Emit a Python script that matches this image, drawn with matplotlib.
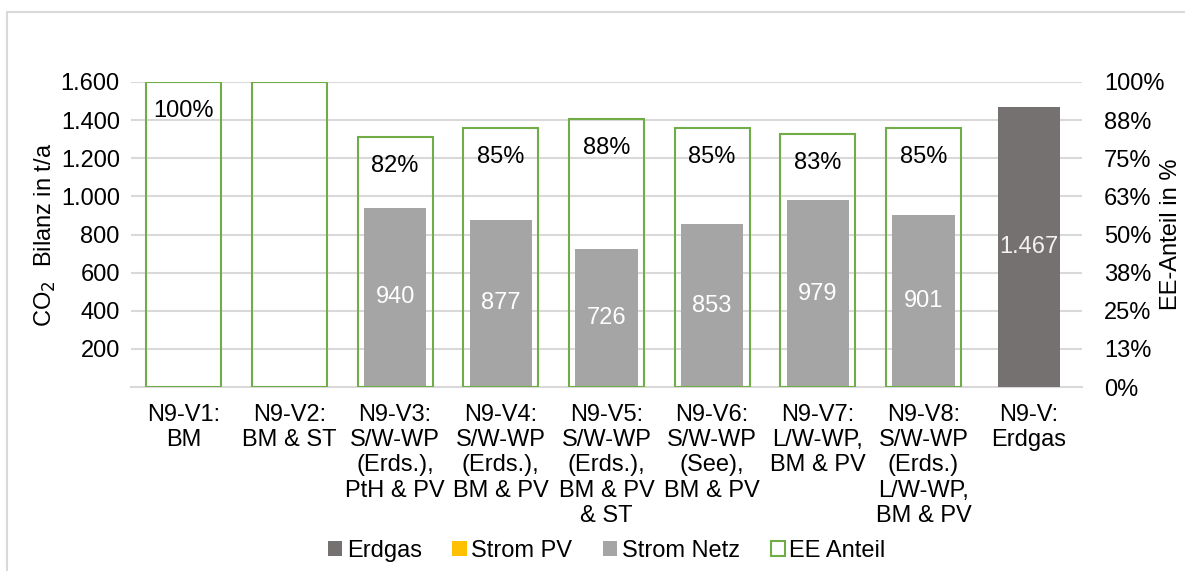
import matplotlib.pyplot as plt
from matplotlib.patches import Patch, Rectangle
import numpy as np

plt.rcParams['font.family'] = ['Liberation Sans', 'DejaVu Sans']
plt.rcParams['font.size'] = 17

# Daten
kategorien = ['N9-V1:\nBM', 'N9-V2:\nBM & ST', 'N9-V3:\nS/W-WP\n(Erds.),\nPtH & PV',
              'N9-V4:\nS/W-WP\n(Erds.),\nBM & PV', 'N9-V5:\nS/W-WP\n(Erds.),\nBM & PV\n& ST',
              'N9-V6:\nS/W-WP\n(See),\nBM & PV', 'N9-V7:\nL/W-WP,\nBM & PV',
              'N9-V8:\nS/W-WP\n(Erds.)\nL/W-WP,\nBM & PV', 'N9-V:\nErdgas']
erdgas = [0, 0, 0, 0, 0, 0, 0, 0, 1467]
strom_pv = [0, 0, 0, 0, 0, 0, 0, 0, 0]
strom_netz = [0, 0, 940, 877, 726, 853, 979, 901, 0]
ee_anteil = [1.00, 1.00, 0.82, 0.85, 0.88, 0.85, 0.83, 0.85, np.nan]
ee_labels = ['100%', '', '82%', '85%', '88%', '85%', '83%', '85%', '']
links_ticks = [200, 400, 600, 800, 1000, 1200, 1400, 1600]
rechts_ticks = [0, 0.125, 0.25, 0.375, 0.5, 0.625, 0.75, 0.875, 1.0]
rechts_labels = ['0%', '13%', '25%', '38%', '50%', '63%', '75%', '88%', '100%']

c_erdgas = '#767171'
c_pv = '#FFC000'
c_netz = '#A5A5A5'
c_ee = '#70AD47'
c_grid = '#D9D9D9'

def tsd(v):
    return f'{v:,}'.replace(',', '.')

fig = plt.figure(figsize=(11.85, 5.71), dpi=100)
fig.patches.append(Rectangle((7 / 1185, -0.1), 1.2, (571 - 12) / 571 + 0.1,
                             transform=fig.transFigure, fill=False,
                             edgecolor=c_grid, linewidth=1.5))
ax = fig.add_axes([0.1105, 0.3222, 0.8025, 0.5342])
x = np.arange(len(kategorien))

b1 = ax.bar(x, erdgas, width=0.59, color=c_erdgas, zorder=3)
b2 = ax.bar(x, strom_pv, width=0.59, bottom=erdgas, color=c_pv, zorder=3)
unten = [e + p for e, p in zip(erdgas, strom_pv)]
b3 = ax.bar(x, strom_netz, width=0.59, bottom=unten, color=c_netz, zorder=3)

ax.bar_label(b1, labels=[tsd(v) if v else '' for v in erdgas], label_type='center',
             color='#F2F2F2')
ax.bar_label(b3, labels=[tsd(v) if v else '' for v in strom_netz], label_type='center',
             color='white')

ax.set_xlim(-0.5, len(kategorien) - 0.5)
ax.set_ylim(0, 1600)
ax.set_yticks(links_ticks)
ax.set_yticklabels([tsd(v) for v in links_ticks])
ax.set_xticks(x)
ax.set_xticklabels(kategorien, linespacing=1.2, va='top')
ax.tick_params(length=0, pad=8)
ax.tick_params(axis='x', pad=12)
ax.grid(axis='y', color=c_grid, linewidth=1.5, zorder=0)
ax.set_axisbelow(True)
for s in ['top', 'right', 'left']:
    ax.spines[s].set_visible(False)
ax.spines['bottom'].set_color(c_grid)
ax.spines['bottom'].set_linewidth(1.5)
ax.set_ylabel('CO$_2$  Bilanz in t/a', labelpad=2)

ax2 = ax.twinx()
b4 = ax2.bar(x, ee_anteil, width=0.71, facecolor='none', edgecolor=c_ee,
             linewidth=1.5, zorder=4)
ax2.bar_label(b4, labels=ee_labels, label_type='edge', padding=-29)
ax2.set_ylim(0, 1)
ax2.set_yticks(rechts_ticks)
ax2.set_yticklabels(rechts_labels)
ax2.tick_params(length=0, pad=16)
for s in ax2.spines.values():
    s.set_visible(False)
ax2.set_ylabel('EE-Anteil in %', va='center', ha='center')
ax2.yaxis.set_label_coords(1.094, 0.5)

handles = [Patch(facecolor=c_erdgas), Patch(facecolor=c_pv), Patch(facecolor=c_netz),
           Patch(facecolor='white', edgecolor=c_ee, linewidth=1.5)]
fig.legend(handles, ['Erdgas', 'Strom PV', 'Strom Netz', 'EE Anteil'], ncol=4,
           loc='center', bbox_to_anchor=(0.512, 0.035), frameon=False,
           handlelength=0.6, handleheight=0.6, handletextpad=0.2, columnspacing=1.3,
           borderaxespad=0)

fig.savefig('out.png', dpi=100)
